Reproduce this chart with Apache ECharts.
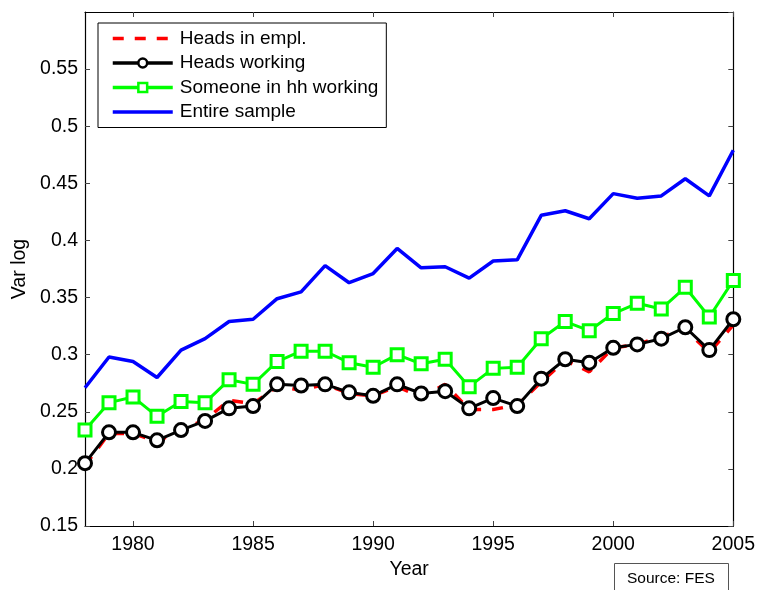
<!DOCTYPE html>
<html>
<head>
<meta charset="utf-8">
<script src="https://cdn.jsdelivr.net/npm/echarts@6/dist/echarts.min.js"></script>
<style>
  html, body { margin: 0; padding: 0; background: #fff; }
  #chart { width: 758px; height: 590px; }
</style>
</head>
<body>
<div id="chart"></div>
<script>
var years = [1978,1979,1980,1981,1982,1983,1984,1985,1986,1987,1988,1989,1990,1991,1992,1993,1994,1995,1996,1997,1998,1999,2000,2001,2002,2003,2004,2005];
var headsInEmpl = [0.203,0.231,0.231,0.224,0.234,0.243,0.260,0.257,0.272,0.269,0.274,0.266,0.264,0.272,0.263,0.274,0.252,0.252,0.256,0.276,0.295,0.285,0.306,0.309,0.316,0.322,0.302,0.326];
var headsWorking = [0.205,0.232,0.232,0.225,0.234,0.242,0.253,0.255,0.274,0.273,0.274,0.267,0.264,0.274,0.266,0.268,0.253,0.262,0.255,0.279,0.296,0.293,0.306,0.309,0.314,0.324,0.304,0.331];
var someoneWorking = [0.234,0.258,0.263,0.246,0.259,0.258,0.278,0.274,0.294,0.303,0.303,0.293,0.289,0.300,0.292,0.296,0.272,0.288,0.289,0.314,0.329,0.321,0.336,0.345,0.340,0.359,0.333,0.365];
var entireSample = [0.271,0.298,0.294,0.280,0.304,0.314,0.329,0.331,0.349,0.355,0.378,0.363,0.371,0.393,0.376,0.377,0.367,0.382,0.383,0.422,0.426,0.419,0.441,0.437,0.439,0.454,0.439,0.479];
var xTicks = [1980,1985,1990,1995,2000,2005];
var seriesNames = ['Heads in empl.','Heads working','Someone in hh working','Entire sample'];

function pairs(vals) { return years.map(function (y, i) { return [y, vals[i]]; }); }

var FONT = '"Liberation Sans", Arial, Helvetica, sans-serif';
var chart = echarts.init(document.getElementById('chart'), null, { renderer: 'canvas' });

var tickStyle = { show: true, inside: true, length: 5, lineStyle: { color: '#444', width: 1 } };
var hiddenSymbol = { color: 'rgba(0,0,0,0)', borderWidth: 0, opacity: 0 };

chart.setOption({
  animation: false,
  backgroundColor: '#ffffff',
  textStyle: { fontFamily: FONT },
  grid: { left: 85, right: 21, top: 12, bottom: 64, containLabel: false, show: false },
  legend: {
    orient: 'vertical',
    left: 98, top: 23,
    width: 293,
    backgroundColor: '#ffffff',
    borderColor: '#000', borderWidth: 1, borderRadius: 0,
    padding: [6, 8, 6, 13],
    itemWidth: 60, itemHeight: 11, itemGap: 5.5,
    textStyle: { fontSize: 19, color: '#000', fontFamily: FONT, padding: [0, 0, 0, 2] },
    data: [
      { name: seriesNames[0], itemStyle: hiddenSymbol, lineStyle: { width: 3.5 } },
      { name: seriesNames[1], lineStyle: { width: 3.5 }, itemStyle: { borderWidth: 2.5 } },
      { name: seriesNames[2], lineStyle: { width: 3.5 }, itemStyle: { borderWidth: 2.5 } },
      { name: seriesNames[3], itemStyle: hiddenSymbol, lineStyle: { width: 3.5 } }
    ]
  },
  xAxis: [{
    type: 'value', min: 1978, max: 2005,
    name: 'Year', nameLocation: 'middle', nameGap: 30,
    nameTextStyle: { fontSize: 19.5, color: '#000', fontFamily: FONT },
    axisLine: { show: true, lineStyle: { color: '#000', width: 1.2 } },
    axisTick: Object.assign({ customValues: xTicks }, tickStyle),
    axisLabel: { customValues: xTicks, fontSize: 19.5, color: '#000', margin: 9, fontFamily: FONT, formatter: function (v) { return String(v); } },
    splitLine: { show: false }
  }, {
    type: 'value', min: 1978, max: 2005, position: 'top',
    axisLine: { show: true, onZero: false, lineStyle: { color: '#000', width: 1.2 } },
    axisTick: Object.assign({ customValues: xTicks }, tickStyle),
    axisLabel: { show: false },
    splitLine: { show: false }
  }],
  yAxis: [{
    type: 'value', min: 0.15, max: 0.6, interval: 0.05,
    name: 'Var log', nameLocation: 'middle', nameGap: 50, nameRotate: 90,
    nameTextStyle: { fontSize: 19.5, color: '#000', fontFamily: FONT },
    axisLine: { show: true, lineStyle: { color: '#000', width: 1.2 } },
    axisTick: tickStyle,
    axisLabel: { fontSize: 19.5, color: '#000', margin: 7, fontFamily: FONT, showMaxLabel: false,
      formatter: function (v) { return String(parseFloat(v.toFixed(2))); } },
    splitLine: { show: false }
  }, {
    type: 'value', min: 0.15, max: 0.6, interval: 0.05, position: 'right',
    axisLine: { show: true, onZero: false, lineStyle: { color: '#000', width: 1.2 } },
    axisTick: tickStyle,
    axisLabel: { show: false },
    splitLine: { show: false }
  }],
  series: [{
    name: seriesNames[0], type: 'line', data: pairs(headsInEmpl),
    symbol: 'none',
    lineStyle: { color: '#ff0000', width: 3.5, type: [11, 11] },
    itemStyle: { color: '#ff0000' }
  }, {
    name: seriesNames[1], type: 'line', data: pairs(headsWorking),
    symbol: 'circle', symbolSize: 13,
    lineStyle: { color: '#000', width: 3 },
    itemStyle: { color: '#ffffff', borderColor: '#000', borderWidth: 3 }
  }, {
    name: seriesNames[2], type: 'line', data: pairs(someoneWorking),
    symbol: 'rect', symbolSize: 12,
    lineStyle: { color: '#00ff00', width: 3 },
    itemStyle: { color: '#ffffff', borderColor: '#00ff00', borderWidth: 3 }
  }, {
    name: seriesNames[3], type: 'line', data: pairs(entireSample),
    symbol: 'none',
    lineStyle: { color: '#0000ff', width: 3.5 },
    itemStyle: { color: '#0000ff' }
  }],
  graphic: [{
    type: 'rect', left: 614, top: 563,
    shape: { width: 114, height: 40 },
    style: { fill: '#fff', stroke: '#555', lineWidth: 1 }
  }, {
    type: 'text', left: 627, top: 571,
    style: { text: 'Source: FES', fontSize: 15.5, fill: '#000', fontFamily: FONT }
  }]
});
</script>
</body>
</html>
